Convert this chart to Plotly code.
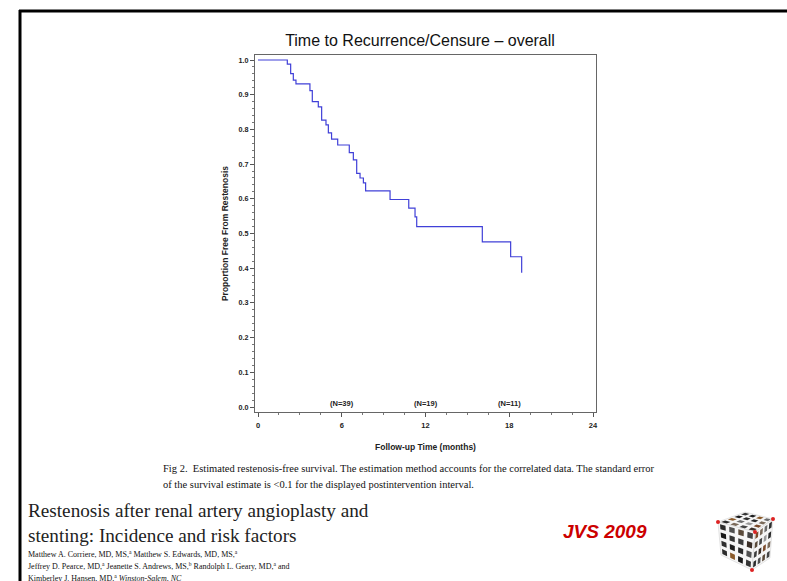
import plotly.graph_objects as go

# ---------------- data ----------------
months = [0, 2.10, 2.34, 2.53, 2.72, 3.72, 3.89, 4.32, 4.56, 4.87, 5.04, 5.27, 5.71,
          6.54, 6.83, 7.07, 7.31, 7.55, 7.71, 9.46, 10.80, 11.25, 11.37, 16.07, 18.10, 18.89]
survival = [1.000, 0.988, 0.961, 0.942, 0.931, 0.912, 0.880, 0.865, 0.827, 0.813, 0.790, 0.772, 0.755,
            0.733, 0.712, 0.673, 0.660, 0.646, 0.623, 0.598, 0.573, 0.548, 0.520, 0.476, 0.433, 0.387]
risk_months = [6, 12, 18]
risk_labels = ["(N=39)", "(N=19)", "(N=11)"]
x_ticks = [0, 6, 12, 18, 24]
y_ticks = [0.0, 0.1, 0.2, 0.3, 0.4, 0.5, 0.6, 0.7, 0.8, 0.9, 1.0]

title_text = "Time to Recurrence/Censure \u2013 overall"
caption_lines = [
    "Fig 2.  Estimated restenosis-free survival. The estimation method accounts for the correlated data. The standard error",
    "of the survival estimate is &lt;0.1 for the displayed postintervention interval.",
]
paper_title_lines = ["Restenosis after renal artery angioplasty and",
                     "stenting: Incidence and risk factors"]
author_lines = [
    "Matthew A. Corriere, MD, MS,<sup>a</sup> Matthew S. Edwards, MD, MS,<sup>a</sup>",
    "Jeffrey D. Pearce, MD,<sup>a</sup> Jeanette S. Andrews, MS,<sup>b</sup> Randolph L. Geary, MD,<sup>a</sup> and",
    "Kimberley J. Hansen, MD,<sup>a</sup> <i>Winston-Salem, NC</i>",
]
journal_text = "JVS 2009"

# ---------------- layout helpers ----------------
W, H = 787, 581
L, R, T, B = 255, 596, 55, 412


def px(x):
    return (x - L) / (R - L)


def py(y):
    return (B - y) / (B - T)


SANS = "Liberation Sans, Arial, sans-serif"
SERIF = "Liberation Serif, Times New Roman, serif"

fig = go.Figure()
fig.add_trace(go.Scatter(
    x=months, y=survival, mode="lines", line_shape="hv",
    line=dict(color="#4040d8", width=1.2), showlegend=False, hoverinfo="skip"))

axis_common = dict(showgrid=False, zeroline=False, showline=True, mirror=True,
                   linecolor="#666666", linewidth=1, ticks="outside", ticklen=4,
                   tickcolor="#555555", tickwidth=1)

fig.update_layout(
    width=W, height=H,
    margin=dict(l=L, r=W - R, t=T, b=H - B),
    paper_bgcolor="white", plot_bgcolor="white",
    title=dict(text=title_text, x=420 / W, y=1 - 40 / H, xref="container", yref="container",
               xanchor="center", yanchor="middle",
               font=dict(family=SANS, size=16, color="#111111")),
    xaxis=dict(range=[-0.215, 24.215], tickvals=x_ticks, ticktext=[str(v) for v in x_ticks],
               tickfont=dict(family=SANS, size=7.5, color="#222222", weight="bold"),
               ticklabelstandoff=2,
               minor=dict(ticks="outside", ticklen=2, dtick=1.5, tick0=0, tickcolor="#777777"),
               title=dict(text="Follow-up Time (months)", standoff=15,
                          font=dict(family=SANS, size=8.5, color="#222222", weight="bold")),
               **axis_common),
    yaxis=dict(range=[-0.0144, 1.0144], tickvals=y_ticks, ticktext=[f"{v:.1f}" for v in y_ticks],
               tickfont=dict(family=SANS, size=7.2, color="#222222", weight="bold"),
               minor=dict(ticks="outside", ticklen=2, dtick=0.02, tick0=0, tickcolor="#777777"),
               title=dict(text="Proportion Free From Restenosis", standoff=8,
                          font=dict(family=SANS, size=8.5, color="#222222", weight="bold")),
               **axis_common),
)

annotations = []
for m, lab in zip(risk_months, risk_labels):
    annotations.append(dict(x=m, y=0.009, xref="x", yref="y", text=lab, showarrow=False,
                            xanchor="center", yanchor="middle",
                            font=dict(family=SANS, size=7.5, color="#222222", weight="bold")))

for i, line in enumerate(caption_lines):
    annotations.append(dict(x=px(161), y=py(469 + 15 * i), xref="paper", yref="paper",
                            text=line, showarrow=False, xanchor="left", yanchor="middle",
                            font=dict(family=SERIF, size=10.5, color="#111111")))

for i, line in enumerate(paper_title_lines):
    annotations.append(dict(x=px(26), y=py(511 + 24 * i), xref="paper", yref="paper",
                            text=line, showarrow=False, xanchor="left", yanchor="middle",
                            font=dict(family=SERIF, size=19.2, color="#222222")))

for i, line in enumerate(author_lines):
    annotations.append(dict(x=px(26), y=py(554 + 12 * i), xref="paper", yref="paper",
                            text=line, showarrow=False, xanchor="left", yanchor="middle",
                            font=dict(family=SERIF, size=8.0, color="#111111")))

annotations.append(dict(x=px(605), y=py(531), xref="paper", yref="paper", text="<b><i>" + journal_text + "</i></b>",
                        showarrow=False, xanchor="center", yanchor="middle",
                        font=dict(family=SANS, size=19, color="#cc0000")))

fig.update_layout(annotations=annotations)

# ---------------- decorations: slide border and cube logo ----------------
shapes = []
shapes.append(dict(type="line", xref="paper", yref="paper", x0=px(19), x1=px(787), y0=py(11), y1=py(11),
                   line=dict(color="black", width=3)))
shapes.append(dict(type="line", xref="paper", yref="paper", x0=px(20), x1=px(20), y0=py(10), y1=py(581),
                   line=dict(color="black", width=3)))


def path_from(points):
    return "M " + " L ".join(f"{px(a):.5f},{py(b):.5f}" for a, b in points) + " Z"


def bilinear(q, u, v):
    (x00, y00), (x10, y10), (x11, y11), (x01, y01) = q
    x = (1 - u) * (1 - v) * x00 + u * (1 - v) * x10 + u * v * x11 + (1 - u) * v * x01
    y = (1 - u) * (1 - v) * y00 + u * (1 - v) * y10 + u * v * y11 + (1 - u) * v * y01
    return x, y


faces = [
    [(718, 522), (745, 512), (773, 519), (755, 532)],   # top
    [(718, 522), (755, 532), (752, 570), (721, 555)],   # left
    [(755, 532), (773, 519), (770, 558), (752, 570)],   # right
]
cell_colors = ["#2b2b2b", "#5a4a3a", "#1e1e1e", "#7a6a5a", "#3c3c3c", "#8a5a2a",
               "#444444", "#2a2a2a", "#6b6b6b", "#3a2e26", "#1a1a1a", "#9a9a9a",
               "#505050", "#2e2e2e", "#7b4b2b", "#353535"]
for fi, q in enumerate(faces):
    shapes.append(dict(type="path", xref="paper", yref="paper", path=path_from(q),
                       fillcolor="#f6f6f6", line=dict(color="#cccccc", width=0.5)))
    n = 4
    for i in range(n):
        for j in range(n):
            u0, u1 = (i + 0.2) / n, (i + 0.8) / n
            v0, v1 = (j + 0.2) / n, (j + 0.8) / n
            pts = [bilinear(q, u0, v0), bilinear(q, u1, v0), bilinear(q, u1, v1), bilinear(q, u0, v1)]
            col = cell_colors[(i * 5 + j * 3 + fi * 7) % len(cell_colors)]
            shapes.append(dict(type="path", xref="paper", yref="paper", path=path_from(pts),
                               fillcolor=col, line=dict(width=0)))
for cx, cy in [(718, 522), (755, 532), (752, 570), (773, 519)]:
    shapes.append(dict(type="circle", xref="paper", yref="paper",
                       x0=px(cx - 2), x1=px(cx + 2), y0=py(cy + 2), y1=py(cy - 2),
                       fillcolor="#dd2222", line=dict(width=0)))

fig.update_layout(shapes=shapes)

fig.write_html("out.html")
